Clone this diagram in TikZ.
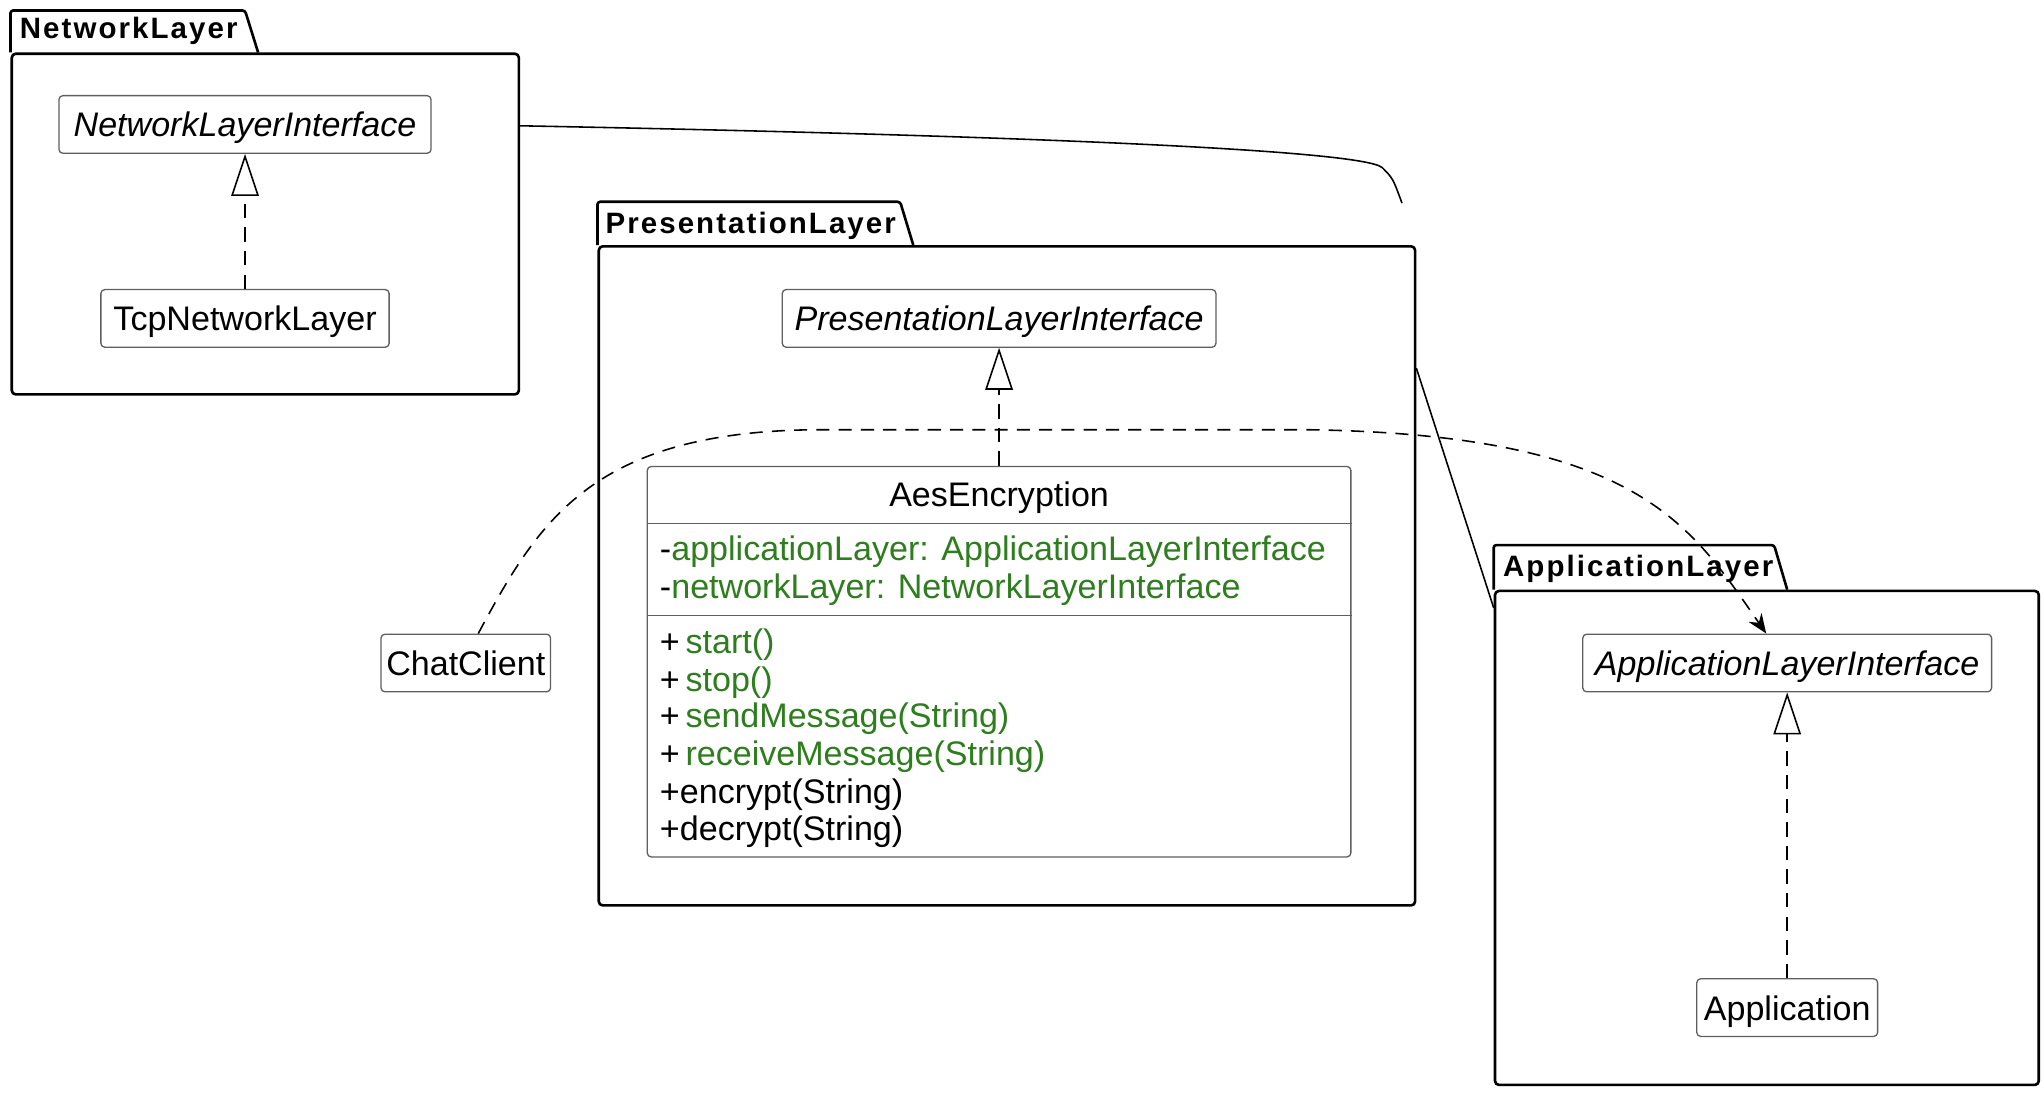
\documentclass[tikz,border=0pt]{standalone}
\usepackage{fontspec}
\setmainfont{Liberation Sans}
\newfontfamily\titlefont{Liberation Sans}[LetterSpace=7]
\usetikzlibrary{arrows.meta,positioning}

\definecolor{memgreen}{RGB}{46,125,30}
\definecolor{boxgray}{RGB}{95,95,95}

\tikzset{
  pkgbody/.style={draw, line width=2pt, rounded corners=3pt, inner sep=0pt},
  pkgtab/.style={line width=2pt, rounded corners=2pt},
  pkgname/.style={anchor=base west, inner sep=0pt, font=\titlefont\bfseries\fontsize{22.5}{27}\selectfont},
  classbox/.style={draw=boxgray, line width=1pt, fill=white, rounded corners=3pt, minimum height=44pt, inner xsep=4pt, text height=19pt, text depth=0pt, font=\fontsize{26}{29}\selectfont},
  ifacebox/.style={classbox, font=\fontsize{26}{29}\selectfont\itshape},
  member/.style={anchor=base west, inner sep=0pt, font=\fontsize{26}{29}\selectfont},
  realize/.style={dash pattern=on 11pt off 7pt, line width=1.2pt, -{Triangle[open, length=32pt, width=21pt]}},
  dep/.style={dash pattern=on 10pt off 7pt, line width=1.2pt, -{Stealth[length=15pt, width=12pt, inset=5pt]}},
  pkglink/.style={line width=1.2pt},
}

\begin{document}
\begin{tikzpicture}[x=1pt, y=-1pt, line join=round]
    \useasboundingbox (0,0) rectangle (1560,841);

    % packages
    \node[pkgbody, minimum width=387pt, minimum height=260pt] (nlpkg) at (202.5,171) {};
    \draw[pkgtab] (nlpkg.north west) -- ++(0,-32) -- ++(179,0) -- ([xshift=189pt]nlpkg.north west);
    \node[pkgname] (nltitle) at ([xshift=7pt,yshift=10.5pt]nlpkg.north west) {NetworkLayer};

    \node[pkgbody, minimum width=623pt, minimum height=503pt] (plpkg) at (768.5,439.5) {};
    \draw[pkgtab] (plpkg.north west) -- ++(0,-33) -- ++(231,0) -- ([xshift=241pt]plpkg.north west);
    \node[pkgname] (pltitle) at ([xshift=6pt,yshift=9pt]plpkg.north west) {PresentationLayer};

    \node[pkgbody, minimum width=415pt, minimum height=377pt] (alpkg) at (1348.5,639.5) {};
    \draw[pkgtab] (alpkg.north west) -- ++(0,-34) -- ++(214,0) -- ([xshift=224pt]alpkg.north west);
    \node[pkgname] (altitle) at ([xshift=7pt,yshift=10pt]alpkg.north west) {ApplicationLayer};

    % classes
    \node[ifacebox, minimum width=284pt] (nli) at (187,95) {NetworkLayerInterface};
    \node[classbox, minimum width=220pt] (tcp) at (187,243) {TcpNetworkLayer};
    \node[ifacebox, minimum width=331pt] (pli) at (762.5,243) {PresentationLayerInterface};
    \node[classbox, minimum width=129pt] (chat) at (355.5,506) {ChatClient};
    \node[ifacebox, minimum width=312pt] (ali) at (1364,506) {ApplicationLayerInterface};
    \node[classbox, minimum width=138pt] (app) at (1364,769) {Application};

    \node[classbox, minimum width=537pt, minimum height=298pt] (aes) at (762.5,505) {};
    \node[member, anchor=base] (aesname) at ([yshift=-31pt]aes.north) {AesEncryption};
    \draw[boxgray, line width=1pt] ([yshift=-44pt]aes.north west) -- ([yshift=-44pt]aes.north east);
    \node[member] (attrapp) at ([xshift=10pt,yshift=-72pt]aes.north west) {-\textcolor{memgreen}{applicationLayer: ApplicationLayerInterface}};
    \node[member] (attrnet) at ([xshift=10pt,yshift=-101pt]aes.north west) {-\textcolor{memgreen}{networkLayer: NetworkLayerInterface}};
    \draw[boxgray, line width=1pt] ([yshift=-114pt]aes.north west) -- ([yshift=-114pt]aes.north east);
    \node[member] (opstart) at ([xshift=10pt,yshift=-143pt]aes.north west) {+\,\textcolor{memgreen}{start()}};
    \node[member] (opstop) at ([xshift=10pt,yshift=-172pt]aes.north west) {+\,\textcolor{memgreen}{stop()}};
    \node[member] (opsend) at ([xshift=10pt,yshift=-200pt]aes.north west) {+\,\textcolor{memgreen}{sendMessage(String)}};
    \node[member] (oprecv) at ([xshift=10pt,yshift=-229pt]aes.north west) {+\,\textcolor{memgreen}{receiveMessage(String)}};
    \node[member] (openc) at ([xshift=10pt,yshift=-258pt]aes.north west) {+encrypt(String)};
    \node[member] (opdec) at ([xshift=10pt,yshift=-286pt]aes.north west) {+decrypt(String)};

    % links
    \draw[realize] (tcp) -- (nli);
    \draw[realize] (aes) -- (pli);
    \draw[realize] (app) -- (ali);

    \coordinate (plhook) at (1070,155);
    \draw[pkglink] ([yshift=-56pt]nlpkg.north east) .. controls (760,103) and (1040,114) .. (1055,128) .. controls (1063,136) .. (plhook);
    \draw[pkglink] ([yshift=-94pt]plpkg.north east) -- ([yshift=-14pt]alpkg.north west);

    \draw[dep] ([xshift=9.5pt]chat.north) .. controls (410,400) and (450,330) .. (620,328) -- (1000,328) .. controls (1250,332) and (1290,400) .. ([xshift=-16pt]ali.north);

\end{tikzpicture}
\end{document}
